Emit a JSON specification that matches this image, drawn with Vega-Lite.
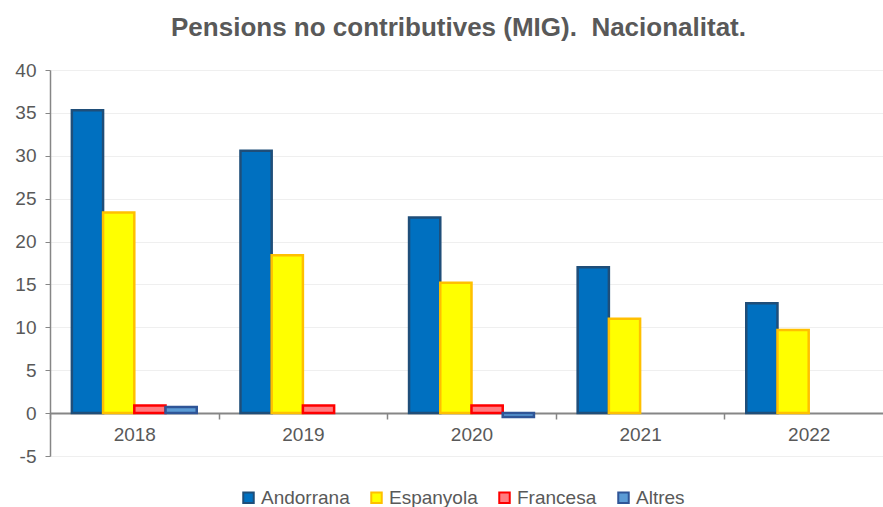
{
  "$schema": "https://vega.github.io/schema/vega-lite/v6.json",
  "width": 833,
  "height": 386,
  "autosize": {"type": "none"},
  "padding": {"left": 50, "top": 70, "right": 0, "bottom": 51},
  "background": "white",
  "title": {
    "text": "Pensions no contributives (MIG).\u00a0 Nacionalitat.",
    "font": "Liberation Sans",
    "fontSize": 26,
    "fontWeight": "bold",
    "color": "#595959",
    "offset": 20,
    "dx": -8
  },
  "data": {
    "values": [
      {"Any": "2018", "Nacionalitat": "Andorrana", "Valor": 35.3},
      {"Any": "2018", "Nacionalitat": "Espanyola", "Valor": 23.4},
      {"Any": "2018", "Nacionalitat": "Francesa", "Valor": 0.9},
      {"Any": "2018", "Nacionalitat": "Altres", "Valor": 0.7},
      {"Any": "2019", "Nacionalitat": "Andorrana", "Valor": 30.6},
      {"Any": "2019", "Nacionalitat": "Espanyola", "Valor": 18.4},
      {"Any": "2019", "Nacionalitat": "Francesa", "Valor": 0.9},
      {"Any": "2020", "Nacionalitat": "Andorrana", "Valor": 22.8},
      {"Any": "2020", "Nacionalitat": "Espanyola", "Valor": 15.2},
      {"Any": "2020", "Nacionalitat": "Francesa", "Valor": 0.9},
      {"Any": "2020", "Nacionalitat": "Altres", "Valor": -0.45},
      {"Any": "2021", "Nacionalitat": "Andorrana", "Valor": 17.0},
      {"Any": "2021", "Nacionalitat": "Espanyola", "Valor": 11.0},
      {"Any": "2022", "Nacionalitat": "Andorrana", "Valor": 12.8},
      {"Any": "2022", "Nacionalitat": "Espanyola", "Valor": 9.7}
    ]
  },
  "mark": {"type": "bar", "strokeWidth": 2.5},
  "encoding": {
    "x": {
      "field": "Any",
      "type": "nominal",
      "scale": {"paddingInner": 0, "paddingOuter": 0, "range": [0, 843]},
      "axis": {
        "title": null,
        "labelAngle": 0,
        "labelFont": "Liberation Sans",
        "labelFontSize": 19,
        "labelColor": "#595959",
        "labelPadding": 6,
        "tickBand": "extent",
        "tickSize": 6,
        "tickColor": "#868686",
        "tickWidth": 1.5,
        "domainColor": "#868686",
        "domainWidth": 2,
        "offset": -43
      }
    },
    "xOffset": {
      "field": "Nacionalitat",
      "type": "nominal",
      "scale": {"domain": ["Andorrana", "Espanyola", "Francesa", "Altres"], "paddingOuter": 0.7, "paddingInner": 0}
    },
    "y": {
      "field": "Valor",
      "type": "quantitative",
      "scale": {"domain": [-5, 40], "nice": false, "zero": false},
      "axis": {
        "title": null,
        "values": [-5, 0, 5, 10, 15, 20, 25, 30, 35, 40],
        "labelExpr": "'' + datum.value",
        "labelFont": "Liberation Sans",
        "labelFontSize": 19,
        "labelColor": "#595959",
        "labelPadding": 9,
        "tickSize": 5,
        "tickColor": "#868686",
        "domainColor": "#868686",
        "domainWidth": 1.5,
        "gridColor": "#EFEFEF",
        "gridWidth": 1.2
      }
    },
    "fill": {
      "field": "Nacionalitat",
      "type": "nominal",
      "scale": {"domain": ["Andorrana", "Espanyola", "Francesa", "Altres"], "range": ["#0070C0", "#FFFF00", "#FF7C80", "#5B9BD5"]},
      "legend": {
        "title": null,
        "orient": "none",
        "legendX": 189,
        "legendY": 418,
        "direction": "horizontal",
        "symbolType": "square",
        "symbolSize": 110,
        "symbolStrokeWidth": 2,
        "labelFont": "Liberation Sans",
        "labelFontSize": 19,
        "labelColor": "#595959",
        "labelOffset": 3,
        "columnPadding": 17
      }
    },
    "stroke": {
      "field": "Nacionalitat",
      "type": "nominal",
      "scale": {"domain": ["Andorrana", "Espanyola", "Francesa", "Altres"], "range": ["#1F4E79", "#FFC000", "#FF0000", "#2F5597"]},
      "legend": {
        "title": null,
        "orient": "none",
        "legendX": 189,
        "legendY": 418,
        "direction": "horizontal",
        "symbolType": "square",
        "symbolSize": 110,
        "symbolStrokeWidth": 2,
        "labelFont": "Liberation Sans",
        "labelFontSize": 19,
        "labelColor": "#595959",
        "labelOffset": 3,
        "columnPadding": 17
      }
    }
  },
  "config": {
    "view": {"stroke": null}
  }
}
